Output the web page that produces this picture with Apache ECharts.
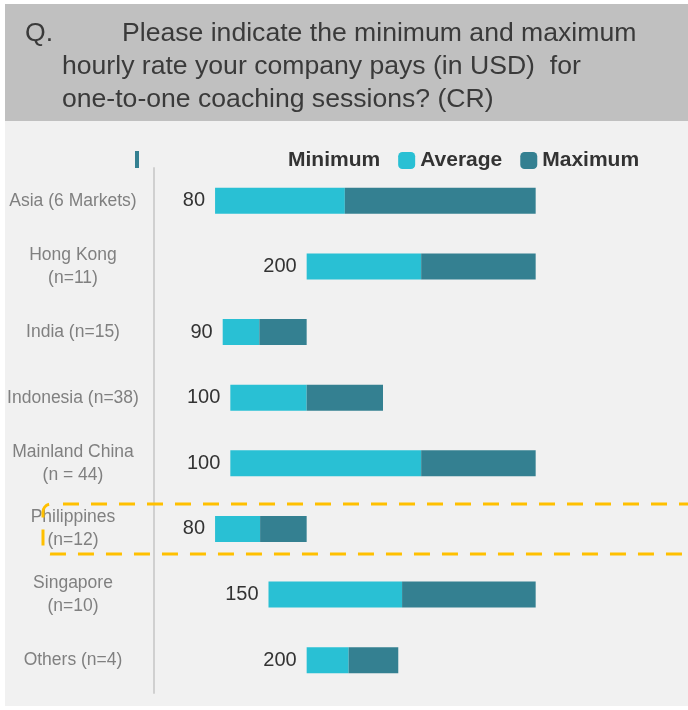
<!DOCTYPE html>
<html><head><meta charset="utf-8">
<style>html,body{margin:0;padding:0;background:#fff}#c{width:688px;height:710px}</style>
<script src="https://cdn.jsdelivr.net/npm/echarts@6/dist/echarts.min.js"></script>
</head><body><div id="c"></div>
<script>
const categories = ['Asia (6 Markets)', 'Hong Kong\n(n=11)', 'India (n=15)', 'Indonesia (n=38)', 'Mainland China\n(n = 44)', 'Philippines\n(n=12)', 'Singapore\n(n=10)', 'Others (n=4)'];
const minimum = [80, 200, 90, 100, 100, 80, 150, 200];
const average = [250, 350, 138, 200, 350, 139, 325, 255];
const maximum = [500, 500, 200, 300, 500, 200, 500, 320];
const legendNames = ['Minimum', 'Average', 'Maximum'];

const avgSeg = average.map((v, i) => v - minimum[i]);
const maxSeg = maximum.map((v, i) => v - average[i]);

const titleFont = '26.6px "Liberation Sans", Arial, sans-serif';
const chart = echarts.init(document.getElementById('c'));
chart.setOption({
  backgroundColor: '#ffffff',
  animation: false,
  graphic: [
    { type: 'rect', z: -10, shape: { x: 5, y: 4, width: 683, height: 117 }, style: { fill: '#c0c0c0' } },
    { type: 'rect', z: -10, shape: { x: 5, y: 121, width: 683, height: 585 }, style: { fill: '#f1f1f1' } },
    { type: 'text', left: 25, top: 20, style: { text: 'Q.', font: titleFont, fill: '#3a3a3a' } },
    { type: 'text', left: 122, top: 20, style: { text: 'Please indicate the minimum and maximum', font: titleFont, fill: '#3a3a3a' } },
    { type: 'text', left: 62, top: 53, style: { text: 'hourly rate your company pays (in USD)  for', font: titleFont, fill: '#3a3a3a' } },
    { type: 'text', left: 62, top: 86, style: { text: 'one-to-one coaching sessions? (CR)', font: titleFont, fill: '#3a3a3a' } },
    { type: 'rect', shape: { x: 135, y: 151, width: 4, height: 17 }, style: { fill: '#348091' } },
    { type: 'rect', z: 100, shape: { x: 43, y: 504, width: 700, height: 50, r: 8 }, style: { fill: 'none', stroke: '#ffc000', lineWidth: 3, lineDash: [16, 12], lineDashOffset: 16 } }
  ],
  legend: {
    data: legendNames,
    left: 266, top: 150, padding: 0,
    itemWidth: 17, itemHeight: 17, itemGap: 18,
    textStyle: { fontFamily: '"Liberation Sans", Arial, sans-serif', fontSize: 21, fontWeight: 'bold', color: '#333' },
    selectedMode: false
  },
  grid: { left: 154, top: 168, width: 458, height: 525, containLabel: false, outerBoundsMode: 'none' },
  xAxis: { type: 'value', min: 0, max: 600, show: false },
  yAxis: {
    type: 'category', data: categories, inverse: true,
    axisLine: { show: true, lineStyle: { color: '#d0d0d0', width: 2 } },
    axisTick: { show: false },
    axisLabel: { align: 'center', margin: 81, lineHeight: 23, color: '#808080', fontSize: 17.5, fontFamily: '"Liberation Sans Narrow", "Arial Narrow", "Liberation Sans", sans-serif' }
  },
  series: [
    { name: 'Minimum', type: 'bar', stack: 's', barWidth: 26, data: minimum, itemStyle: { color: 'rgba(0,0,0,0)' }, silent: true },
    { name: 'Average', type: 'bar', stack: 's', barWidth: 26, data: avgSeg, itemStyle: { color: '#29c0d4' },
      label: { show: true, position: 'left', distance: 10, formatter: p => String(minimum[p.dataIndex]), color: '#333', fontSize: 20, fontFamily: '"Liberation Sans", Arial, sans-serif' } },
    { name: 'Maximum', type: 'bar', stack: 's', barWidth: 26, data: maxSeg, itemStyle: { color: '#348091' } }
  ]
});
</script></body></html>
